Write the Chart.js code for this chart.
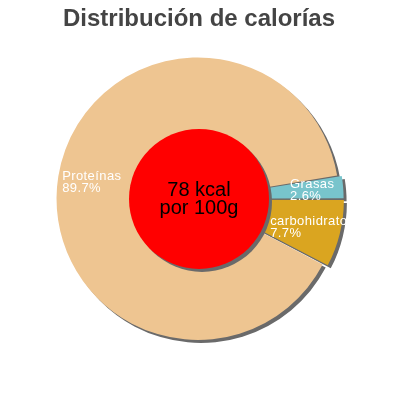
<!DOCTYPE html>
<html>
<head>
<meta charset="utf-8">
<style>
  html, body { margin: 0; padding: 0; background: #fff; }
  #wrap { width: 400px; height: 400px; }
</style>
</head>
<body>
<div id="wrap"><canvas id="chart" width="400" height="400"></canvas></div>
<script src="https://cdn.jsdelivr.net/npm/chart.js@4.4.1/dist/chart.umd.min.js"></script>
<script>
// data (order follows the pie clockwise from 3 o'clock)
const LABELS = ["carbohidratos", "Proteínas", "Grasas"];
const PERCENTS = [7.7, 89.7, 2.6];
const TITLE = "Distribución de calorías";
const CENTER_LINES = ["78 kcal", "por 100g"];

const FONT = "'Liberation Sans', Arial, sans-serif";
const SHADOW = "#6a6a6a";

/** Draw every slice's shadow first, so no slice shadow lands on another slice. */
const pieShadow = {
  id: "pieShadow",
  beforeDatasetsDraw(chart) {
    const ctx = chart.ctx;
    const dpr = chart.currentDevicePixelRatio || 1;
    const far = 10000;
    ctx.save();
    ctx.translate(-far, 0);
    ctx.shadowColor = SHADOW;
    ctx.shadowBlur = 0;
    ctx.shadowOffsetX = (far + 3) * dpr;
    ctx.shadowOffsetY = 3 * dpr;
    chart.getDatasetMeta(0).data.forEach((arc) => arc.draw(ctx));
    ctx.restore();
  },
};

/** Red disc with the kcal text, then the white slice labels on top. */
const centerAndLabels = {
  id: "centerAndLabels",
  afterDatasetsDraw(chart) {
    const ctx = chart.ctx;
    const arcs = chart.getDatasetMeta(0).data;
    if (!arcs.length) return;
    const { x, y, outerRadius } = arcs[0].getProps(["x", "y", "outerRadius"], true);
    const dpr = chart.currentDevicePixelRatio || 1;

    ctx.save();
    ctx.shadowColor = SHADOW;
    ctx.shadowOffsetX = 3 * dpr;
    ctx.shadowOffsetY = 3 * dpr;
    ctx.fillStyle = "#ff0000";
    ctx.beginPath();
    ctx.arc(x, y, outerRadius * 0.5, 0, Math.PI * 2);
    ctx.fill();
    ctx.restore();

    ctx.save();
    ctx.fillStyle = "#000";
    ctx.font = `20px ${FONT}`;
    ctx.textAlign = "center";
    ctx.textBaseline = "alphabetic";
    ctx.fillText(CENTER_LINES[0], x, y - 3);
    ctx.fillText(CENTER_LINES[1], x, y + 15);
    ctx.restore();

    // labels: two left-aligned lines, block centred on a point along the slice's mid angle
    ctx.save();
    ctx.fillStyle = "#fff";
    ctx.font = `13px ${FONT}`;
    if ("letterSpacing" in ctx) ctx.letterSpacing = "0.4px";
    ctx.textAlign = "left";
    ctx.textBaseline = "alphabetic";
    arcs.forEach((arc, i) => {
      const p = arc.getProps(["startAngle", "endAngle", "outerRadius"], true);
      const mid = (p.startAngle + p.endAngle) / 2;
      const r = p.outerRadius * 0.74 + (arc.options.offset || 0);
      const px = x + Math.cos(mid) * r;
      const py = y + Math.sin(mid) * r;
      const lines = [LABELS[i], PERCENTS[i].toFixed(1) + "%"];
      const w = Math.max(...lines.map((t) => ctx.measureText(t).width));
      const left = px - w / 2;
      ctx.fillText(lines[0], left, py - 2);
      ctx.fillText(lines[1], left, py + 10);
    });
    ctx.restore();
  },
};

new Chart(document.getElementById("chart").getContext("2d"), {
  type: "pie",
  data: {
    labels: LABELS,
    datasets: [
      {
        data: PERCENTS,
        backgroundColor: ["#DAA520", "#EEC591", "#78C4CC"],
        borderWidth: 0,
        offset: [13, 5, 10],
      },
    ],
  },
  options: {
    responsive: false,
    animation: false,
    rotation: 90,
    radius: 140,
    layout: { padding: { left: 0, right: 2, top: 0, bottom: 44 } },
    plugins: {
      legend: { display: false },
      tooltip: { enabled: false },
      title: {
        display: true,
        text: TITLE,
        color: "#444",
        font: { family: FONT, size: 24, weight: "bold" },
        padding: { top: 5, bottom: 8 },
      },
    },
  },
  plugins: [pieShadow, centerAndLabels],
});
</script>
</body>
</html>
